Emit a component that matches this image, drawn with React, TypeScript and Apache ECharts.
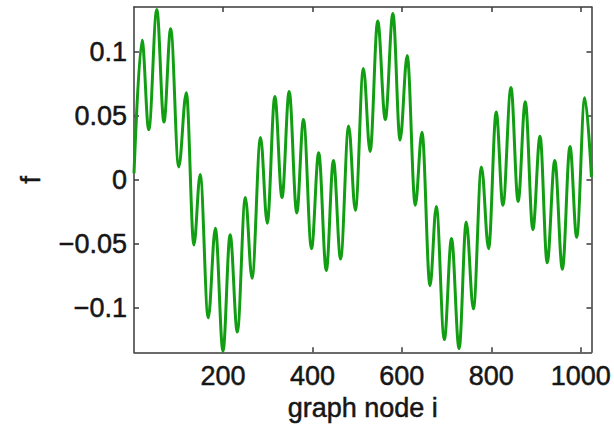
import React, { useEffect, useRef } from "react";
import * as echarts from "echarts";

// graph node index of each local extremum (plus the two end points)
const nodes = [
  1, 19, 34, 52, 68, 83, 101, 118, 135, 149, 167, 183, 200, 216, 232, 250,
  265, 284, 299, 316, 332, 348, 365, 380, 398, 414, 431, 447, 463, 481, 496,
  514, 529, 546, 563, 580, 596, 612, 630, 645, 663, 677, 695, 711, 728, 744,
  760, 778, 794, 811, 826, 844, 860, 876, 893, 909, 925, 942, 959, 976, 991,
  1009, 1024,
];
// signal value f at those nodes
const values = [
  0.005, 0.109, 0.039, 0.133, 0.045, 0.118, 0.01, 0.068, -0.051, 0.004,
  -0.108, -0.038, -0.134, -0.043, -0.119, -0.014, -0.077, 0.033, -0.034,
  0.065, -0.014, 0.069, -0.026, 0.047, -0.054, 0.021, -0.071, 0.015, -0.062,
  0.042, -0.024, 0.087, 0.022, 0.124, 0.047, 0.13, 0.031, 0.097, -0.02, 0.037,
  -0.083, -0.021, -0.125, -0.046, -0.132, -0.033, -0.101, 0.01, -0.054, 0.053,
  -0.02, 0.072, -0.017, 0.061, -0.039, 0.034, -0.065, 0.015, -0.07, 0.026,
  -0.045, 0.064, 0.002,
];
const xTicks = [200, 400, 600, 800, 1000];
const yTicks = [-0.1, -0.05, 0, 0.05, 0.1];
const xName = "graph node i";
const yName = "f";

export default function App() {
  const ref = useRef<HTMLDivElement>(null);
  useEffect(() => {
    const chart = echarts.init(ref.current!, null, { renderer: "svg" });
    const axisColor = "#3a3a3a";
    const textColor = "#161616";
    const font = "'Liberation Sans', Arial, Helvetica, sans-serif";
    const fs = 27;
    const lineStyle = { color: axisColor, width: 1.5 };
    const textStyle = {
      fontSize: fs,
      color: textColor,
      fontFamily: font,
      textBorderColor: textColor,
      textBorderWidth: 0.5,
    };
    const fmtX = (v: number) => String(v);
    const fmtY = (v: number) => String(v).replace("-", "\u2212");
    const xBase = {
      type: "value",
      min: 1,
      max: 1024,
      axisLine: { show: true, onZero: false, lineStyle },
      axisTick: { show: true, inside: true, length: 5, customValues: xTicks, lineStyle },
      splitLine: { show: false },
    };
    const yBase = {
      type: "value",
      min: -0.135,
      max: 0.135,
      axisLine: { show: true, onZero: false, lineStyle },
      axisTick: { show: true, inside: true, length: 5, customValues: yTicks, lineStyle },
      splitLine: { show: false },
    };
    chart.setOption({
      animation: false,
      backgroundColor: "#ffffff",
      grid: { left: 134, right: 21, top: 7, bottom: 70, containLabel: false },
      xAxis: [
        {
          ...xBase,
          position: "bottom",
          axisLabel: {
            show: true,
            customValues: xTicks,
            ...textStyle,
            margin: 10,
            formatter: fmtX,
          },
          name: xName,
          nameLocation: "middle",
          nameGap: 42,
          nameTextStyle: textStyle,
        },
        { ...xBase, position: "top", axisLabel: { show: false } },
      ],
      yAxis: [
        {
          ...yBase,
          position: "left",
          axisLabel: {
            show: true,
            customValues: yTicks,
            ...textStyle,
            margin: 7,
            formatter: fmtY,
          },
          name: yName,
          nameLocation: "middle",
          nameRotate: 90,
          nameGap: 90,
          nameTextStyle: textStyle,
        },
        { ...yBase, position: "right", axisLabel: { show: false } },
      ],
      series: [
        {
          type: "line",
          data: nodes.map((n, i) => [n, values[i]]),
          smooth: 0.36,
          smoothMonotone: "x",
          symbol: "none",
          showSymbol: false,
          clip: true,
          lineStyle: { color: "#129e12", width: 3 },
        },
      ],
    });
    return () => chart.dispose();
  }, []);
  return (
    <div
      ref={ref}
      style={{ position: "fixed", left: 0, top: 0, width: 614, height: 427, background: "#fff" }}
    />
  );
}
